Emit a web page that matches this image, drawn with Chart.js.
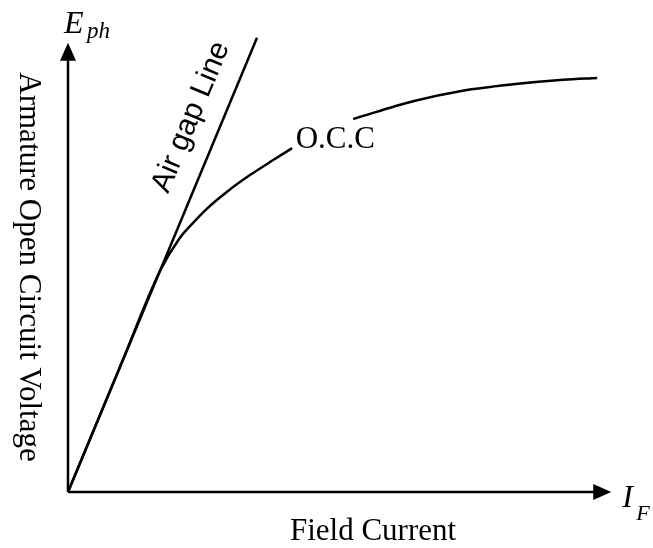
<!DOCTYPE html>
<html>
<head>
<meta charset="utf-8">
<style>
  html, body { margin: 0; padding: 0; background: #ffffff; }
  #wrap { width: 653px; height: 548px; }
</style>
<script src="https://cdn.jsdelivr.net/npm/chart.js@4/dist/chart.umd.min.js"></script>
</head>
<body>
<div id="wrap"><canvas id="occ" width="653" height="548"></canvas></div>
<script>
// Field current (arbitrary units) and open-circuit voltage (arbitrary units)
const occCurrent = [0, 10, 17.0, 20.7, 22.6, 25.7, 29.4, 33.7, 38.0, 41.5, 47, 52.8, 63.9, 73.1, 82.4, 91.7, 98.0];
const occVoltage = [0, 28.5, 48.4, 55.7, 58.3, 62.1, 65.8, 69.5, 72.8, 75.4, null, 81.8, 85.7, 88.0, 89.4, 90.4, 90.8];

// Air gap line: straight line through the origin
const airGapCurrent = [0, 35.0];
const airGapVoltage = [0, 99.6];

// Axis extents and where the arrow tips sit
const axisMax = 100;
const xArrowTip = 100.6;
const yArrowTip = 98.5;

const toPoints = (xs, ys) => xs.map((x, i) => ({ x: x, y: ys[i] }));

const labelsPlugin = {
  id: 'occLabels',
  afterDatasetsDraw(chart) {
    const ctx = chart.ctx;
    const xs = chart.scales.x, ys = chart.scales.y;
    const ox = xs.getPixelForValue(0), oy = ys.getPixelForValue(0);
    const xt = xs.getPixelForValue(xArrowTip), yt = ys.getPixelForValue(yArrowTip);
    ctx.save();
    ctx.strokeStyle = '#000';
    ctx.fillStyle = '#000';
    ctx.lineWidth = 2.5;
    // axes
    ctx.beginPath();
    ctx.moveTo(ox, oy); ctx.lineTo(ox, yt + 14);
    ctx.moveTo(ox, oy); ctx.lineTo(xt - 14, oy);
    ctx.stroke();
    // arrow heads
    ctx.beginPath();
    ctx.moveTo(ox, yt); ctx.lineTo(ox - 8, yt + 18); ctx.lineTo(ox + 8, yt + 18); ctx.closePath();
    ctx.fill();
    ctx.beginPath();
    ctx.moveTo(xt, oy); ctx.lineTo(xt - 18, oy - 8); ctx.lineTo(xt - 18, oy + 8); ctx.closePath();
    ctx.fill();

    // axis symbols
    ctx.textBaseline = 'alphabetic';
    ctx.textAlign = 'left';
    ctx.font = 'italic 32px "Liberation Serif"';
    ctx.fillText('E', ox - 4, yt - 10);
    ctx.font = 'italic 23px "Liberation Serif"';
    ctx.fillText('ph', ox + 19, yt - 5);
    ctx.font = 'italic 32px "Liberation Serif"';
    ctx.fillText('I', xt + 11, oy + 15);
    ctx.font = 'italic 22px "Liberation Serif"';
    ctx.fillText('F', xt + 25, oy + 28);

    // axis titles
    ctx.font = '31px "Liberation Serif"';
    ctx.textAlign = 'center';
    ctx.fillText('Field Current', 373, oy + 48);
    ctx.save();
    ctx.translate(ox - 40, 267);
    ctx.rotate(Math.PI / 2);
    ctx.textBaseline = 'middle';
    ctx.fillText('Armature Open Circuit Voltage', 0, 0);
    ctx.restore();

    // curve labels
    ctx.font = '31px "Liberation Serif"';
    ctx.textBaseline = 'middle';
    ctx.fillText('O.C.C', xs.getPixelForValue(49.5), ys.getPixelForValue(77.2));
    ctx.save();
    ctx.translate(xs.getPixelForValue(22.8), ys.getPixelForValue(82.2));
    ctx.rotate(-Math.atan2(ys.getPixelForValue(0) - ys.getPixelForValue(airGapVoltage[1]),
                           xs.getPixelForValue(airGapCurrent[1]) - xs.getPixelForValue(0)));
    ctx.font = '30px "Liberation Sans"';
    ctx.fillText('Air gap Line', 0, 0);
    ctx.restore();
    ctx.restore();
  }
};

new Chart(document.getElementById('occ'), {
  type: 'scatter',
  data: {
    datasets: [
      {
        label: 'O.C.C',
        data: toPoints(occCurrent, occVoltage),
        showLine: true,
        spanGaps: false,
        borderColor: '#000',
        borderWidth: 2.5,
        pointRadius: 0,
        cubicInterpolationMode: 'monotone',
        clip: false
      },
      {
        label: 'Air gap Line',
        data: toPoints(airGapCurrent, airGapVoltage),
        showLine: true,
        borderColor: '#000',
        borderWidth: 2.5,
        pointRadius: 0,
        clip: false
      }
    ]
  },
  options: {
    responsive: false,
    animation: false,
    layout: { padding: { left: 68, right: 45, top: 36, bottom: 56 } },
    plugins: { legend: { display: false }, tooltip: { enabled: false } },
    scales: {
      x: { type: 'linear', min: 0, max: axisMax, display: false },
      y: { type: 'linear', min: 0, max: axisMax, display: false }
    }
  },
  plugins: [labelsPlugin]
});
</script>
</body>
</html>
